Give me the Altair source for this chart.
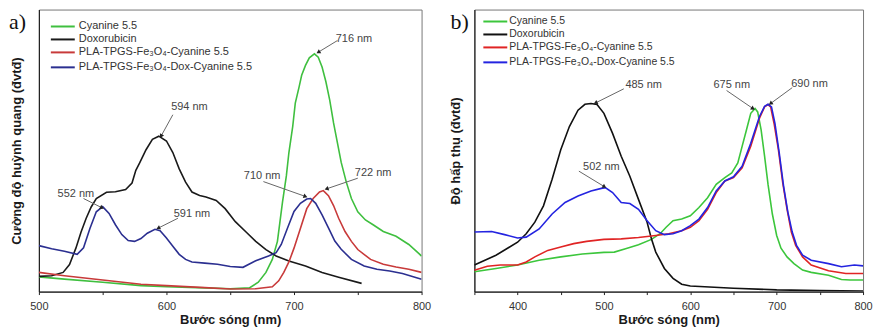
import altair as alt
import pandas as pd
import numpy as np

FONT = "Liberation Sans"

# ---------------- Panel a: fluorescence ----------------
A_NAMES = ["Cyanine 5.5", "Doxorubicin", "PLA-TPGS-Fe₃O₄-Cyanine 5.5", "PLA-TPGS-Fe₃O₄-Dox-Cyanine 5.5"]
A_COLORS = ["#3fbf3f", "#1a1a1a", "#c83a3a", "#2b2f90"]

A_WL_CY = [500, 520, 550, 580, 600, 630, 650, 665, 672, 678, 683, 687, 689, 691, 694, 696, 699, 701, 704, 706,
           709, 712, 716, 719, 722, 725, 728, 731, 734, 737, 741, 745, 750, 756, 762, 770, 780, 790, 800]
A_CY = [5.2, 4.4, 3.3, 2.1, 1.7, 1.3, 1.0, 1.3, 3.3, 6.8, 11.4, 17.8, 24.8, 31.8, 41, 49.3, 58.6, 66.8, 72.6, 76.7,
        80.2, 82.9, 84.3, 83.1, 79.6, 74.4, 67.9, 59.8, 52.8, 45.8, 38.8, 33, 28.3, 25.4, 23.7, 21.3, 19.6, 16.7, 12.6]

A_WL_DOX = [500, 510, 519, 524, 529, 533, 537, 541, 545, 553, 560, 568, 573, 576, 579, 584, 589, 594, 600, 605,
            610, 615, 620, 626, 631, 639, 646, 654, 662, 670, 678, 686, 696, 709, 722, 735, 753]
A_DOX = [5.4, 5.6, 6.8, 9.6, 15.4, 21, 25.9, 30, 33, 35.2, 35.4, 36.2, 38.5, 43, 45.6, 50.3, 54, 55.1, 53.4, 49.3,
         43.5, 38.8, 35.3, 34.1, 33.5, 32.3, 29.4, 24.8, 21.3, 17.8, 14.9, 12.6, 10.8, 9.1, 6.8, 5.1, 2.9]

A_WL_RED = [500, 520, 550, 580, 600, 630, 650, 670, 683, 688, 692, 696, 700, 705, 710, 715, 720, 723, 727, 731,
            735, 740, 745, 750, 760, 770, 780, 790, 800]
A_RED = [6.8, 5.6, 4.1, 2.6, 2.1, 1.4, 0.9, 1.0, 1.7, 3.8, 6.8, 10.5, 15.4, 22.4, 29.4, 33, 35.3, 35.8, 34, 30.5,
         26, 21.3, 17.8, 14.9, 11.4, 9.7, 8.7, 7.9, 6.8]

A_WL_BLUE = [500, 510, 520, 530, 535, 540, 545, 550, 555, 560, 565, 570, 575, 580, 585, 591, 595, 600, 605, 610,
             615, 620, 630, 640, 650, 660, 670, 680, 686, 690, 695, 700, 705, 710, 713, 717, 722, 727, 732, 737,
             745, 755, 765, 775, 785, 800]
A_BLUE = [16.3, 15.2, 14.3, 13.2, 15.5, 22.4, 28.3, 30.1, 27.7, 23.7, 20.2, 18.1, 17.8, 18.8, 20.7, 22.1, 21.6, 19.0,
          16.1, 13.2, 11.4, 10.5, 10.1, 9.7, 8.9, 8.6, 10.9, 12.6, 13.8, 16.7, 22.6, 28.4, 31.3, 32.8, 33, 31.3,
          27.2, 22.6, 17.9, 15, 11.4, 9.1, 7.9, 7.3, 6.4, 4.4]

A_LABELS = ["716 nm", "594 nm", "552 nm", "591 nm", "710 nm", "722 nm"]
A_LABEL_X = [747, 618, 529, 620, 675, 762]
A_LABEL_Y = [89.5, 65.4, 34.5, 27.5, 40.8, 42.0]
A_ARROW_X1 = [734, 605, 535, 609, 676, 750]
A_ARROW_Y1 = [89.0, 62.7, 33.0, 26.0, 39.0, 40.2]
A_ARROW_X2 = [719.5, 596, 549, 594, 708.5, 726]
A_ARROW_Y2 = [85.0, 55.3, 29.8, 22.6, 33.8, 36.5]

# ---------------- Panel b: absorbance ----------------
B_NAMES = A_NAMES
B_COLORS = ["#3cc63c", "#111111", "#e02424", "#2424e0"]

B_WL_CY = [350, 375, 400, 425, 450, 475, 500, 512, 525, 540, 555, 565, 572, 580, 590, 600, 610, 620, 630, 640,
           648, 655, 660, 665, 670, 675, 678, 682, 686, 690, 695, 700, 705, 712, 720, 730, 740, 760, 775, 785, 800]
B_CY = [7.0, 8.2, 9.4, 11.1, 12.3, 13.3, 13.9, 14.0, 15.2, 16.6, 18.5, 20.5, 22.8, 25.1, 25.7, 26.9, 29.8, 33.3,
        38, 40.4, 42.1, 45.6, 51.5, 57.3, 63.2, 64.9, 63.7, 57.3, 48, 38, 27.5, 19.9, 15.4, 12.3, 9.9, 7.6, 6.8,
        5.8, 4.3, 4.1, 4.1]

B_WL_DOX = [350, 375, 400, 410, 420, 430, 440, 450, 460, 470, 478, 485, 492, 500, 510, 520, 530, 540, 550, 555,
            560, 570, 580, 590, 600, 650, 700, 750, 800]
B_DOX = [9.4, 12.9, 17.5, 20.5, 24.6, 30.4, 39.8, 50.3, 58.5, 64.3, 66.4, 66.7, 66.3, 63.2, 56.1, 48, 40.9, 32.7,
         24.6, 18.7, 14, 8.2, 4.7, 2.6, 2.0, 1.2, 0.6, 0.35, 0.2]

B_WL_RED = [350, 365, 380, 400, 410, 420, 435, 450, 465, 480, 500, 520, 540, 560, 575, 590, 600, 610, 620, 630,
            640, 650, 660, 670, 680, 686, 690, 693, 697, 702, 707, 712, 717, 722, 730, 740, 760, 780, 800]
B_RED = [7.6, 9.0, 9.4, 9.4, 10.5, 12.3, 14.6, 15.8, 17.0, 17.8, 18.5, 18.7, 19.2, 19.9, 20.5, 21.6, 22.8, 25.1,
         29.2, 35.1, 39.2, 40.4, 43.9, 51.5, 61.4, 65.5, 66.3, 65.5, 59.6, 50.3, 38.6, 29.2, 21.1, 16.4, 12.3,
         9.4, 7.4, 6.4, 6.4]

B_WL_BLUE = [350, 370, 385, 400, 410, 425, 440, 455, 470, 485, 497, 502, 510, 520, 530, 540, 550, 560, 570, 580,
             590, 600, 610, 620, 630, 640, 650, 660, 670, 680, 686, 690, 694, 698, 703, 708, 713, 718, 723, 730,
             740, 760, 775, 790, 800]
B_BLUE = [21.1, 21.3, 20.2, 19.0, 19.3, 22.2, 27.5, 31.6, 33.9, 35.7, 36.6, 36.8, 35.1, 31.6, 31.2, 29.2, 25.1,
          21.6, 20.2, 20.5, 21.6, 23.4, 25.7, 29.8, 35.7, 39.2, 40.7, 44.4, 52.6, 62, 65.7, 66.4, 65.5, 59.6,
          49.1, 37.4, 28.1, 21.1, 16.4, 12.9, 11.1, 9.9, 8.8, 9.4, 9.1]

B_LABELS = ["485 nm", "502 nm", "675 nm", "690 nm"]
B_LABEL_X = [546, 497, 648, 738]
B_LABEL_Y = [73.1, 44.1, 73.1, 73.7]
B_ARROW_X1 = [523, 471, 642, 718]
B_ARROW_Y1 = [71.9, 42.7, 71.3, 72.3]
B_ARROW_X2 = [491, 500, 672, 693.5]
B_ARROW_Y2 = [67.0, 37.3, 65.0, 66.8]

# ---------------- layout / style ----------------
H = 283
A_W, B_W = 384, 390
A_DOMAIN, B_DOMAIN = [500, 800], [350, 800]
Y_DOMAIN = [0, 100]


def xenc(field, domain, ticks):
    return alt.X(field, type="quantitative",
                 scale=alt.Scale(domain=domain, nice=False, zero=False),
                 axis=alt.Axis(values=ticks, title="Bước sóng (nm)", grid=False,
                               labelExpr="datum.value % 100 == 0 ? datum.value : ''",
                               labelFlush=False, labelOverlap=False,
                               domainColor="#222", domainWidth=1.2, tickColor="#222", tickSize=3,
                               labelFont=FONT, labelFontSize=11, labelColor="#333", labelPadding=6,
                               titleFont=FONT, titleFontSize=13, titleFontWeight="bold",
                               titleColor="#1a1a1a", titlePadding=2))


def yenc(field, title, tpad):
    return alt.Y(field, type="quantitative",
                 scale=alt.Scale(domain=Y_DOMAIN, nice=False, zero=False),
                 axis=alt.Axis(title=title, labels=False, ticks=False, grid=False,
                               domainColor="#222", domainWidth=1.2,
                               titleFont=FONT, titleFontSize=13, titleFontWeight="bold",
                               titleColor="#1a1a1a", titlePadding=tpad))


def arrow_df(x1, y1, x2, y2, sx, sy):
    df = pd.DataFrame({"x1": x1, "y1": y1, "x2": x2, "y2": y2})
    dx = (df.x2 - df.x1) * sx
    dy = -(df.y2 - df.y1) * sy
    df["angle"] = (np.degrees(np.arctan2(dx, -dy)) + 360) % 360
    return df


def panel(series, names, colors, labels, lx, ly, ax1, ay1, ax2, ay2, domain, ticks, width,
          ytitle, tpad, letter, letter_x, leg_x1, leg_x2, leg_tx, leg_ys, leg_fs):
    layers = []
    for (wl, val), c in zip(series, colors):
        df = pd.DataFrame({"wl": wl, "v": val})
        layers.append(alt.Chart(df).mark_line(color=c, strokeWidth=1.6, clip=True).encode(
            x=xenc("wl", domain, ticks), y=yenc("v", ytitle, tpad)))
    sx = width / (domain[1] - domain[0])
    sy = H / (Y_DOMAIN[1] - Y_DOMAIN[0])
    adf = arrow_df(ax1, ay1, ax2, ay2, sx, sy)
    layers.append(alt.Chart(adf).mark_rule(color="#666", strokeWidth=1).encode(
        x=xenc("x1", domain, ticks), y=yenc("y1", ytitle, tpad), x2="x2", y2="y2"))
    layers.append(alt.Chart(adf).mark_point(shape="triangle", filled=True, size=22, color="#222",
                                            opacity=1).encode(
        x=xenc("x2", domain, ticks), y=yenc("y2", ytitle, tpad), angle=alt.Angle("angle:Q", scale=None)))
    ldf = pd.DataFrame({"lx": lx, "ly": ly, "t": labels})
    layers.append(alt.Chart(ldf).mark_text(font=FONT, fontSize=11, color="#444", align="center",
                                           baseline="middle").encode(
        x=xenc("lx", domain, ticks), y=yenc("ly", ytitle, tpad), text="t:N"))
    # legend drawn inside the plot (top-left)
    for name, c, yy in zip(names, colors, leg_ys):
        one = pd.DataFrame({"name": [name]})
        layers.append(alt.Chart(one).mark_rule(color=c, strokeWidth=2).encode(
            x=alt.value(leg_x1), x2=alt.value(leg_x2), y=alt.value(yy)))
        layers.append(alt.Chart(one).mark_text(font=FONT, fontSize=leg_fs, color="#333", align="left",
                                               baseline="middle").encode(
            x=alt.value(leg_tx), y=alt.value(yy), text="name:N"))
    let = pd.DataFrame({"l": [letter]})
    layers.append(alt.Chart(let).mark_text(font="Liberation Serif", fontSize=22, color="#111",
                                           align="left", baseline="alphabetic").encode(
        x=alt.value(letter_x), y=alt.value(20), text="l:N"))
    return alt.layer(*layers).properties(width=width, height=H)


A_TICKS = list(range(500, 801, 50))
B_TICKS = list(range(350, 801, 50))

pa = panel([(A_WL_CY, A_CY), (A_WL_DOX, A_DOX), (A_WL_RED, A_RED), (A_WL_BLUE, A_BLUE)],
           A_NAMES, A_COLORS, A_LABELS, A_LABEL_X, A_LABEL_Y,
           A_ARROW_X1, A_ARROW_Y1, A_ARROW_X2, A_ARROW_Y2, A_DOMAIN, A_TICKS, A_W,
           "Cường độ huỳnh quang (đvtđ)", 15, "a)", -30, 12, 36, 40, [17, 30, 43, 58], 11)

pb = panel([(B_WL_CY, B_CY), (B_WL_DOX, B_DOX), (B_WL_RED, B_RED), (B_WL_BLUE, B_BLUE)],
           B_NAMES, B_COLORS, B_LABELS, B_LABEL_X, B_LABEL_Y,
           B_ARROW_X1, B_ARROW_Y1, B_ARROW_X2, B_ARROW_Y2, B_DOMAIN, B_TICKS, B_W,
           "Độ hấp thụ (đvtđ)", 12, "b)", -24, 9, 33, 35, [12, 25, 38, 53], 10.5)

chart = alt.hconcat(pa, pb, spacing=17).properties(padding=0).configure_view(
    stroke="#777", strokeWidth=1)

chart.save("out.html", embed_options={"renderer": "svg", "actions": False})
